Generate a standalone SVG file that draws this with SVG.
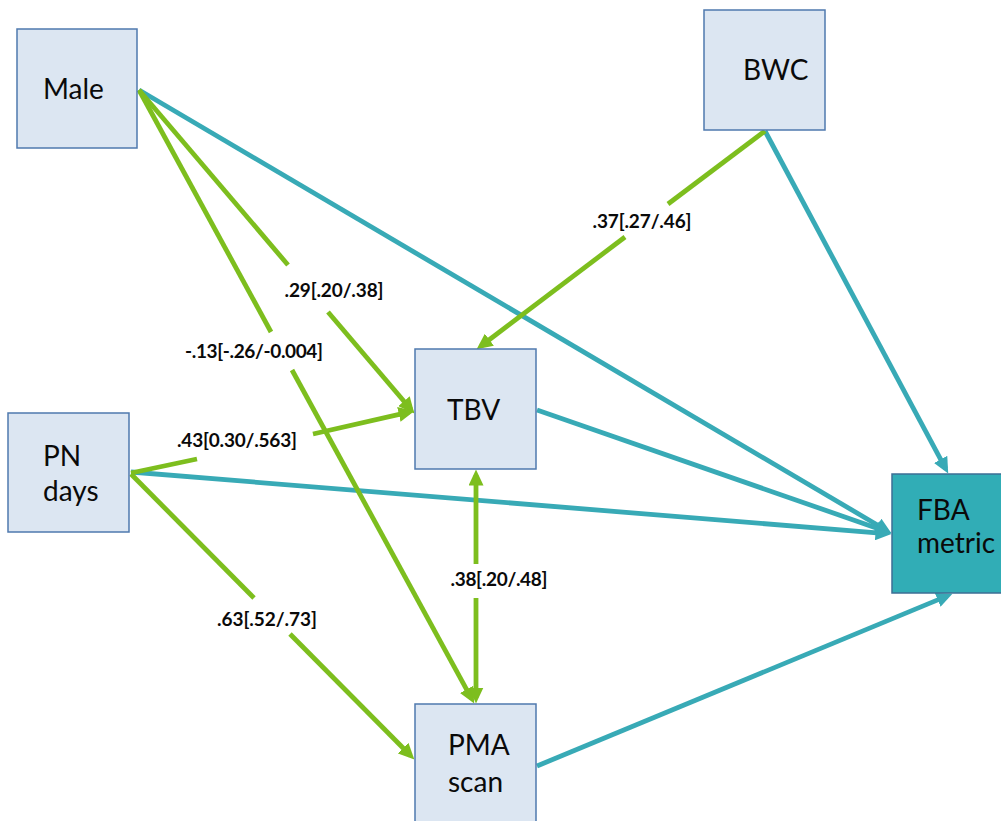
<svg xmlns="http://www.w3.org/2000/svg" width="1001" height="821" viewBox="0 0 1001 821">
  <style>
    .node { fill: #DCE6F2; stroke: #4F79AE; stroke-width: 1.5; }
    .node.out { fill: #31ADB6; stroke: #3D6F95; }
    .name { font-family: Lato, "Liberation Sans", sans-serif; font-size: 28px; fill: #0a0a0a; }
    .coef { font-family: Lato, "Liberation Sans", sans-serif; font-size: 19px; font-weight: bold; fill: #0a0a0a; }
    .g { stroke: #7DBE1E; stroke-width: 4.8; fill: none; }
    .t { stroke: #38AAB6; stroke-width: 4.8; fill: none; }
  </style>
  <defs>
    <marker id="ag" markerUnits="userSpaceOnUse" markerWidth="16" markerHeight="15" viewBox="0 0 16 15" refX="10.5" refY="7.5" orient="auto-start-reverse">
      <path d="M0,0 L16,7.5 L0,15 z" fill="#7DBE1E"/>
    </marker>
    <marker id="at" markerUnits="userSpaceOnUse" markerWidth="16" markerHeight="15" viewBox="0 0 16 15" refX="10.5" refY="7.5" orient="auto">
      <path d="M0,0 L16,7.5 L0,15 z" fill="#38AAB6"/>
    </marker>
  </defs>

  <g id="connectors">
    <!-- paths into the outcome -->
    <line class="t" x1="139" y1="90" x2="886.7" y2="530.5" marker-end="url(#at)"/>
    <line class="t" x1="765" y1="131" x2="945.6" y2="468.6" marker-end="url(#at)"/>
    <line class="t" x1="537" y1="410" x2="886.3" y2="531.4" marker-end="url(#at)"/>
    <line class="t" x1="131" y1="472" x2="886" y2="533.6" marker-end="url(#at)"/>
    <line class="t" x1="537" y1="766" x2="947.4" y2="595.9" marker-end="url(#at)"/>

    <!-- Male -> TBV -->
    <line class="g" x1="139" y1="90" x2="288" y2="265"/>
    <line class="g" x1="328" y1="312" x2="410.8" y2="409.2" marker-end="url(#ag)"/>
    <!-- Male -> PMA scan -->
    <line class="g" x1="139" y1="90" x2="271" y2="332"/>
    <line class="g" x1="292" y1="370" x2="471.6" y2="698.6" marker-end="url(#ag)"/>
    <!-- PN days -> TBV -->
    <line class="g" x1="131" y1="473" x2="197" y2="459"/>
    <line class="g" x1="313" y1="434" x2="409.1" y2="412.1" marker-end="url(#ag)"/>
    <!-- PN days -> PMA scan -->
    <line class="g" x1="131" y1="474" x2="254" y2="598"/>
    <line class="g" x1="290" y1="634" x2="410.5" y2="755.5" marker-end="url(#ag)"/>
    <!-- BWC -> TBV -->
    <line class="g" x1="765" y1="131" x2="668" y2="204"/>
    <line class="g" x1="625" y1="237" x2="481" y2="346" marker-end="url(#ag)"/>
    <!-- TBV <-> PMA scan -->
    <line class="g" x1="476" y1="475" x2="476" y2="564" marker-start="url(#ag)"/>
    <line class="g" x1="476" y1="598" x2="476" y2="698" marker-end="url(#ag)"/>
  </g>

  <g id="labels">
    <text class="coef" x="334" y="297" text-anchor="middle" textLength="99">.29[.20/.38]</text>
    <text class="coef" x="254" y="358" text-anchor="middle" textLength="138">-.13[-.26/-0.004]</text>
    <text class="coef" x="237" y="447" text-anchor="middle" textLength="120">.43[0.30/.563]</text>
    <text class="coef" x="499" y="586" text-anchor="middle" textLength="97">.38[.20/.48]</text>
    <text class="coef" x="267" y="626" text-anchor="middle" textLength="100">.63[.52/.73]</text>
    <text class="coef" x="642" y="228" text-anchor="middle" textLength="99">.37[.27/.46]</text>
  </g>

  <g id="male">
    <rect class="node" x="17" y="29" width="120" height="119"/>
    <text class="name" x="43" y="99">Male</text>
  </g>
  <g id="bwc">
    <rect class="node" x="704" y="10" width="121" height="120"/>
    <text class="name" x="743" y="80">BWC</text>
  </g>
  <g id="tbv">
    <rect class="node" x="415" y="349" width="121" height="120"/>
    <text class="name" x="447" y="420">TBV</text>
  </g>
  <g id="pn-days">
    <rect class="node" x="8" y="413" width="121" height="119"/>
    <text class="name" x="43" y="466">PN</text>
    <text class="name" x="43" y="501">days</text>
  </g>
  <g id="fba-metric">
    <rect class="node out" x="892" y="474" width="121" height="119"/>
    <text class="name" x="917" y="520">FBA</text>
    <text class="name" x="917" y="553">metric</text>
  </g>
  <g id="pma-scan">
    <rect class="node" x="415" y="704" width="121" height="120"/>
    <text class="name" x="448" y="755">PMA</text>
    <text class="name" x="448" y="792">scan</text>
  </g>
</svg>
